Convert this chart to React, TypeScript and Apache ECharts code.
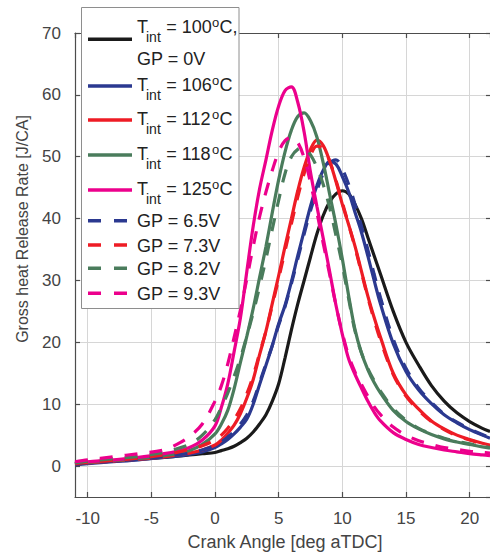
import { useEffect, useRef } from "react";
import * as echarts from "echarts";

// ---------- data ----------
const crankAngle = [-11, -10, -8, -6, -4, -3, -2, -1, 0, 0.5, 1, 1.5, 2, 2.5, 3, 3.5, 4, 4.5, 5, 5.5, 6, 6.5, 7, 7.5, 8, 8.5, 9, 9.5, 10, 10.5, 11, 11.5, 12, 12.5, 13, 14, 15, 16, 17, 18, 19, 20, 21, 21.6];

const tint100 = [0.3, 0.5, 0.8, 1.1, 1.4, 1.6, 1.8, 2.0, 2.2, 2.5, 2.8, 3.2, 3.8, 4.5, 5.5, 6.8, 8.3, 10.5, 13.3, 17.5, 22, 26.2, 30, 33.8, 37.5, 40.5, 42.7, 44, 44.5, 44, 42.3, 40, 37, 34, 31, 25, 20, 16.3, 13, 10.5, 8.6, 7.2, 6.1, 5.6];
const tint106 = [0.2, 0.4, 0.7, 1.0, 1.4, 1.6, 1.9, 2.3, 3.0, 3.6, 4.3, 5.2, 6.3, 7.6, 10, 13.2, 16.3, 19.5, 23, 26, 29.8, 34, 38, 42, 45.3, 47.8, 49.2, 48.8, 46.8, 44.3, 41, 37.8, 34, 30, 26.2, 19.8, 15.3, 12.3, 10.1, 8.3, 7, 5.9, 5, 4.5];
const tint112 = [0.3, 0.5, 0.8, 1.1, 1.5, 1.8, 2.1, 2.6, 3.4, 4.2, 5.3, 6.6, 8.5, 11, 14, 18, 21.8, 26.3, 30.8, 35.5, 40, 44.5, 48.3, 51.2, 52.7, 51.8, 49.3, 46, 42.3, 39, 35.5, 31.5, 27.5, 24, 20.8, 15, 11.5, 9.2, 7.3, 6, 5, 4.3, 3.7, 3.4];
const tint118 = [0.4, 0.6, 0.9, 1.2, 1.7, 2.0, 2.5, 3.5, 5.2, 6.8, 9, 12.5, 16.8, 21, 25.5, 30.5, 35.5, 41, 46.3, 50.8, 54.3, 56.5, 57.1, 55.8, 53.2, 49, 44, 39, 33.5, 27.5, 22, 18.3, 15.6, 13.5, 11.8, 9, 7.2, 6, 5.1, 4.4, 3.9, 3.5, 3.1, 2.9];
const tint125 = [0.5, 0.7, 1.0, 1.4, 2.0, 2.4, 3.0, 4.2, 6.5, 9.5, 13.3, 18.5, 24, 31.5, 38.8, 44.8, 49.5, 54.3, 58.2, 60.7, 61.3, 58.8, 54, 47.5, 42, 36.8, 31.5, 26, 21.3, 17.3, 14.8, 12.6, 10.5, 8.7, 7.3, 5.4, 4.3, 3.5, 3.0, 2.6, 2.3, 2.0, 1.8, 1.7];
const gp65 = [0.3, 0.5, 0.8, 1.1, 1.5, 1.8, 2.1, 2.6, 3.3, 3.9, 4.7, 5.6, 6.8, 8.3, 10.5, 13.5, 16.5, 19.5, 22.8, 25.8, 29.5, 33.5, 37.5, 41.3, 44.5, 47.3, 49, 49.5, 48, 45.5, 42.3, 38.8, 35, 31, 27.2, 20.5, 15.8, 12.6, 10.3, 8.4, 7.1, 6.0, 5.1, 4.6];
const gp73 = [0.4, 0.6, 0.9, 1.3, 1.8, 2.2, 2.7, 3.3, 4.2, 5.0, 6.1, 7.5, 9.3, 11.7, 14.6, 18.2, 21.8, 26, 30.3, 34.8, 39.2, 43.5, 47.3, 50.2, 51.7, 51.3, 49.3, 46.2, 42.6, 39, 35.3, 31.3, 27.3, 23.6, 20.3, 14.8, 11.3, 9, 7.2, 5.9, 4.9, 4.2, 3.6, 3.3];
const gp82 = [0.5, 0.8, 1.2, 1.6, 2.2, 2.8, 3.5, 5, 7.5, 9.5, 11.8, 14.5, 17.5, 21, 24.8, 29, 33.5, 38.3, 43, 47.3, 50, 51.2, 51.4, 50.3, 48.3, 45.5, 41.8, 37.3, 32.5, 27, 21.8, 18.3, 15.8, 13.8, 12.1, 9.3, 7.4, 6.1, 5.2, 4.5, 4.0, 3.6, 3.2, 3.0];
const gp93 = [0.7, 1.0, 1.5, 2.0, 2.6, 3.5, 4.8, 6.8, 10.5, 13, 16.5, 20.8, 25.3, 30.3, 35.5, 40.3, 44.3, 47.8, 50.8, 52.6, 53.1, 52.3, 49.8, 45.8, 41, 36, 31, 26, 21.5, 17.8, 15.2, 13.2, 11.3, 9.6, 8.3, 6.3, 5.0, 4.1, 3.5, 3.0, 2.7, 2.4, 2.2, 2.1];

const tintTemps = ["100", "106", "112", "118", "125"];
const gpVoltages = ["6.5", "7.3", "8.2", "9.3"];
const solidValues = [tint100, tint106, tint112, tint118, tint125];
const dashedValues = [gp65, gp73, gp82, gp93];

const solidColors = ["#1a1a1a", "#2b3990", "#ee1c25", "#4a7c5c", "#ec008c"];
const dashedColors = ["#2b3990", "#ee1c25", "#4a7c5c", "#ec008c"];

const xTitle = "Crank Angle [deg aTDC]";
const yTitle = "Gross heat Release Rate [J/CA]";

const FONT = '"Liberation Sans", Arial, Helvetica, sans-serif';
const AXIS_COLOR = "#4d4d4d";
const LABEL_COLOR = "#444444";
const DASH = [13, 12];

function txt(text: string, x: number, y: number, size: number, extra: any = {}) {
  return {
    type: "text",
    x,
    y,
    z: 110,
    silent: true,
    style: {
      text,
      fill: "#222222",
      fontSize: size,
      fontFamily: FONT,
      textAlign: "left",
      textVerticalAlign: "middle",
      align: "left",
      verticalAlign: "middle",
      ...extra,
    },
  };
}

function buildLegend() {
  const els: any[] = [];
  els.push({
    type: "rect",
    z: 100,
    silent: true,
    shape: { x: 81.5, y: 7.5, width: 157.5, height: 301 },
    style: { fill: "#ffffff", stroke: "#8e8e8e", lineWidth: 1 },
  });
  const tIcon = [39.3, 86, 120, 155, 190];
  const tText = [27, 85, 119, 154, 189];
  tintTemps.forEach((t, i) => {
    els.push({
      type: "line",
      z: 105,
      silent: true,
      shape: { x1: 88, y1: tIcon[i], x2: 132, y2: tIcon[i] },
      style: { stroke: solidColors[i], lineWidth: 3.5 },
    });
    const ty = tText[i];
    els.push(txt("T", 137, ty, 18));
    els.push(txt("int", 146, ty + 9.6, 14));
    els.push(txt("= " + t, 166.3, ty, 18));
    els.push(txt("o", 212, ty - 4.5, 13));
    els.push(txt(i === 0 ? "C," : "C", 219.5, ty, 18));
    if (i === 0) els.push(txt("GP = 0V", 137, 59, 18));
  });
  const gIcon = [220.7, 245, 268.3, 293.3];
  gpVoltages.forEach((v, i) => {
    els.push({
      type: "line",
      z: 105,
      silent: true,
      shape: { x1: 88, y1: gIcon[i], x2: 132, y2: gIcon[i] },
      style: { stroke: dashedColors[i], lineWidth: 3.5, lineDash: [13, 13] },
    });
    els.push(txt("GP = " + v + "V", 137, gIcon[i] + 0.5, 18));
  });
  return els;
}

export default function App() {
  const ref = useRef<HTMLDivElement>(null);
  useEffect(() => {
    if (!ref.current) return;
    const chart = echarts.init(ref.current, null, { renderer: "svg" });

    const solidSeries = solidValues.map((vals, i) => ({
      type: "line",
      name: "T_int = " + tintTemps[i] + "°C" + (i === 0 ? ", GP = 0V" : ""),
      data: crankAngle.map((x, k) => [x, vals[k]]),
      showSymbol: false,
      symbol: "none",
      smooth: 0.35,
      lineStyle: { color: solidColors[i], width: 3.2 },
      itemStyle: { color: solidColors[i] },
      z: 2,
    }));
    const dashedSeries = dashedValues.map((vals, i) => ({
      type: "line",
      name: "GP = " + gpVoltages[i] + "V",
      data: crankAngle.map((x, k) => [x, vals[k]]),
      showSymbol: false,
      symbol: "none",
      smooth: 0.35,
      lineStyle: { color: dashedColors[i], width: 3.2, type: DASH, cap: "butt" },
      itemStyle: { color: dashedColors[i] },
      z: 3,
    }));

    const baseX = { type: "value", min: -11, max: 21.6, splitNumber: 7 };
    const baseY = { type: "value", min: -5, max: 70, splitNumber: 7 };

    chart.setOption({
      animation: false,
      backgroundColor: "#ffffff",
      textStyle: { fontFamily: FONT },
      grid: { left: 75, right: 0, top: 33, bottom: 57, containLabel: false },
      xAxis: [
        {
          ...baseX,
          position: "bottom",
          axisLine: { show: true, onZero: false, lineStyle: { color: AXIS_COLOR, width: 1.2 } },
          axisTick: { show: true, inside: true, length: 5, lineStyle: { color: AXIS_COLOR, width: 1.2 } },
          axisLabel: {
            show: true,
            margin: 13,
            color: LABEL_COLOR,
            fontSize: 17,
            fontFamily: FONT,
            showMinLabel: false,
            showMaxLabel: false,
          },
          splitLine: { show: true, lineStyle: { color: "#d6d6d6", width: 1 } },
        },
        {
          ...baseX,
          position: "top",
          axisLine: { show: true, onZero: false, lineStyle: { color: AXIS_COLOR, width: 1.2 } },
          axisTick: { show: true, inside: true, length: 5, lineStyle: { color: AXIS_COLOR, width: 1.2 } },
          axisLabel: { show: false },
          splitLine: { show: false },
        },
      ],
      yAxis: [
        {
          ...baseY,
          position: "left",
          axisLine: { show: true, onZero: false, lineStyle: { color: AXIS_COLOR, width: 1.2 } },
          axisTick: { show: true, inside: true, length: 5, lineStyle: { color: AXIS_COLOR, width: 1.2 } },
          axisLabel: {
            show: true,
            margin: 14,
            color: LABEL_COLOR,
            fontSize: 17,
            fontFamily: FONT,
            showMinLabel: false,
          },
          splitLine: { show: true, lineStyle: { color: "#d6d6d6", width: 1 } },
        },
        {
          ...baseY,
          position: "right",
          axisLine: { show: false, onZero: false },
          axisTick: { show: true, inside: true, length: 4, lineStyle: { color: AXIS_COLOR, width: 1.2 } },
          axisLabel: { show: false },
          splitLine: { show: false },
        },
      ],
      series: [...solidSeries, ...dashedSeries],
      graphic: [
        { ...txt(yTitle, 22, 229, 16, { fill: LABEL_COLOR, textAlign: "center", align: "center" }), rotation: Math.PI / 2 },
        txt(xTitle, 285, 541.5, 18, { fill: LABEL_COLOR, textAlign: "center", align: "center" }),
        ...buildLegend(),
      ],
    });

    return () => chart.dispose();
  }, []);

  return (
    <div
      ref={ref}
      style={{ position: "fixed", left: 0, top: 0, width: 490, height: 554, background: "#fff" }}
    />
  );
}
